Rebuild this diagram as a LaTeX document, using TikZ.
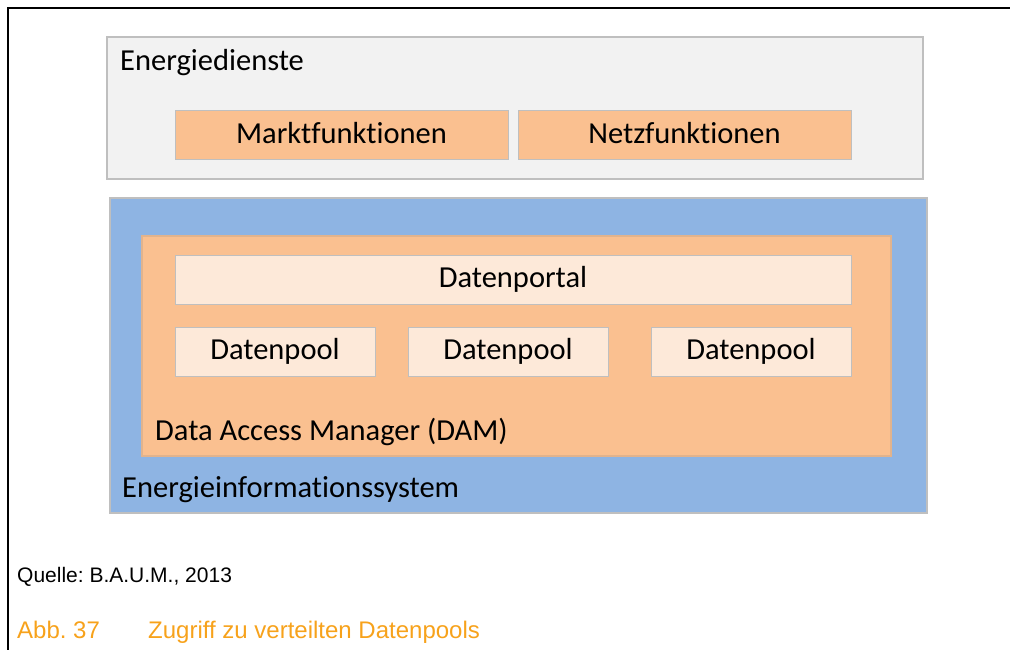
\documentclass[tikz,border=0pt]{standalone}
\usepackage{fontspec}
\setmainfont{Carlito}[Ligatures=NoCommon]
\newfontfamily\capfont{Liberation Sans}
\frenchspacing
\definecolor{layergray}{HTML}{F2F2F2}
\definecolor{edgegray}{HTML}{BFBFBF}
\definecolor{peach}{HTML}{FAC090}
\definecolor{lightpeach}{HTML}{FDE9D9}
\definecolor{skyblue}{HTML}{8EB4E3}
\definecolor{captionorange}{HTML}{F7A21B}
\tikzset{
  x=1pt, y=-1pt,
  layer/.style={draw=edgegray, line width=1.2pt},
  box/.style={draw=edgegray, line width=1pt, minimum height=49pt, inner sep=0pt,
    text height=20pt, text depth=4.4pt, font=\fontsize{30.5}{34}\selectfont},
  lbl/.style={anchor=base west, inner sep=0pt, font=\fontsize{30.5}{34}\selectfont},
  captext/.style={anchor=base west, inner sep=0pt, font=\capfont\fontsize{21}{24}\selectfont},
  figtext/.style={anchor=base west, inner sep=0pt, text=captionorange, font=\capfont\fontsize{24}{28}\selectfont}
}
\begin{document}
\begin{tikzpicture}
\useasboundingbox (0,0) rectangle (1010,650);
% page frame
\draw[line width=2pt] (8,650) -- (8,8) -- (1010,8);

% upper layer: energy services
\draw[layer, fill=layergray] (107,37) rectangle (923,179);
\node[lbl] (dienste) at (120,70.5) {Energiedienste};
\node[box, fill=peach, minimum width=333pt] (markt) at (341.5,135.5) {Marktfunktionen};
\node[box, fill=peach, minimum width=333pt] (netz) at (684.5,135.5) {Netzfunktionen};

% lower layer: energy information system
\draw[layer, fill=skyblue] (110,198) rectangle (927,513);
\draw[layer, draw=peach!80!gray, fill=peach] (142,236) rectangle (891,456);
\node[box, fill=lightpeach, minimum width=676pt] (portal) at (513,279.5) {Datenportal};
\node[box, fill=lightpeach, minimum width=200pt] (poolA) at (275,351.5) {Datenpool};
\node[box, fill=lightpeach, minimum width=200pt] (poolB) at (508,351.5) {Datenpool};
\node[box, fill=lightpeach, minimum width=200pt] (poolC) at (751,351.5) {Datenpool};
\node[lbl] (dam) at (155,440) {Data Access Manager (DAM)};
\node[lbl] (eis) at (122,497) {Energieinformationssystem};

% source and figure caption
\node[captext] (quelle) at (17,582.3) {Quelle: B.A.U.M., 2013};
\node[figtext] (abb) at (17,638.3) {Abb. 37};
\node[figtext] (titel) at (148,638.3) {Zugriff zu verteilten Datenpools};
\end{tikzpicture}
\end{document}
